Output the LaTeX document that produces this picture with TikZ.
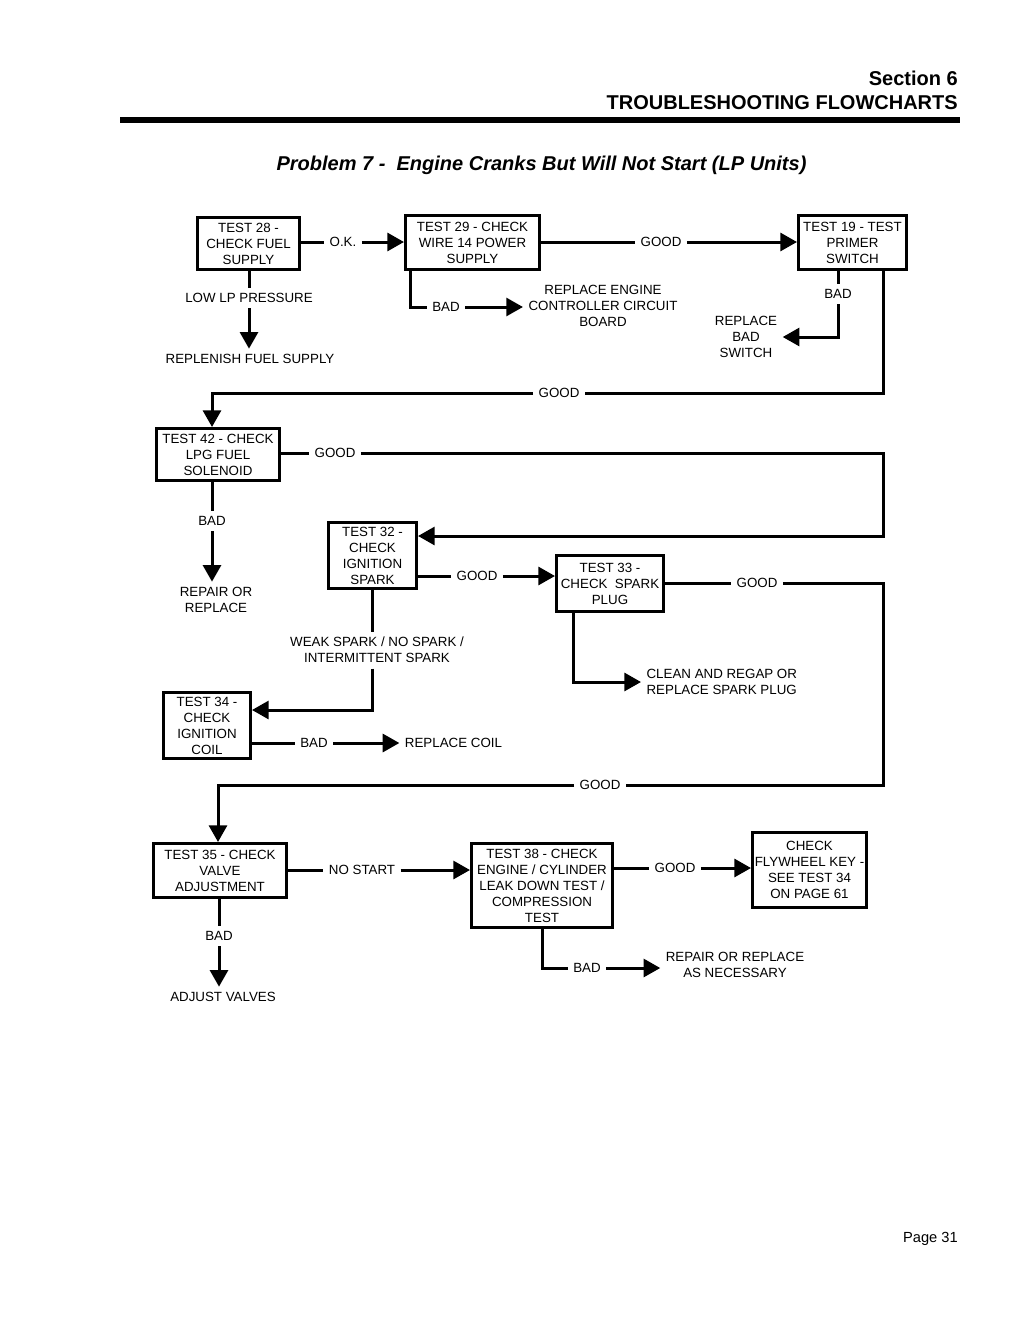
\documentclass[tikz,border=0pt]{standalone}
\usepackage{fontspec}
\setmainfont{Liberation Sans}
\usepackage{tikz}
\usetikzlibrary{arrows.meta,positioning}

\begin{document}
\begin{tikzpicture}
[ x=0.75pt, y=-0.75pt,
		test/.style={rectangle,draw,line width=2.25pt,align=center,inner sep=1pt,execute at begin node={\rule{0pt}{10.5pt}},font=\fontsize{10}{12}\selectfont},
		answer/.style={align=center,inner sep=4pt,font=\fontsize{10}{12}\selectfont},
		lineOut/.style={line width=2.25pt},
		arrowOut/.style={-{Triangle[length=12.5pt,width=13.5pt]},line width=2.25pt}]

	\useasboundingbox (0,0) rectangle (1020,1320);

	\node[anchor=south east,align=right,inner sep=0pt,font=\fontsize{15}{18}\selectfont\bfseries] (section) at (958,110) {Section 6\\TROUBLESHOOTING FLOWCHARTS};
	\draw[line width=4.5pt] (120,120) -- (960,120);
	\node[anchor=base,inner sep=0pt,font=\fontsize{15}{18}\selectfont\bfseries\itshape] (title) at (541.5,170) {Problem 7 - \ Engine Cranks But Will Not Start (LP Units)};
	\node[anchor=base east,inner sep=0pt,font=\fontsize{11}{13}\selectfont] (page) at (958,1242) {Page 31};

	\node[test,minimum width=76.5pt,minimum height=39pt] (t28) at (248.5,243.5) {TEST 28 -\\CHECK FUEL\\SUPPLY};
	\node[test,minimum width=100.5pt,minimum height=40.5pt] (t29) at (472.5,242.5) {TEST 29 - CHECK\\WIRE 14 POWER\\SUPPLY};
	\node[test,minimum width=81pt,minimum height=40.5pt] (t19) at (852.5,242.5) {TEST 19 - TEST\\PRIMER\\SWITCH};
	\node[test,minimum width=92.25pt,minimum height=39pt] (t42) at (218,454.5) {TEST 42 - CHECK\\LPG FUEL\\SOLENOID};
	\node[test,minimum width=66pt,minimum height=49.5pt] (t32) at (372.5,555.5) {TEST 32 -\\CHECK\\IGNITION\\SPARK};
	\node[test,minimum width=80.25pt,minimum height=42pt] (t33) at (610,583.5) {TEST 33 -\\CHECK \ SPARK\\PLUG};
	\node[test,minimum width=65.25pt,minimum height=49.5pt] (t34) at (207,725.5) {TEST 34 -\\CHECK\\IGNITION\\COIL};
	\node[test,minimum width=99.75pt,minimum height=40.5pt] (t35) at (220,870.5) {TEST 35 - CHECK\\VALVE\\ADJUSTMENT};
	\node[test,minimum width=105.75pt,minimum height=63pt] (t38) at (542,885.5) {TEST 38 - CHECK\\ENGINE / CYLINDER\\LEAK DOWN TEST /\\COMPRESSION\\TEST};
	\node[test,minimum width=85.5pt,minimum height=56.25pt,inner sep=0pt] (flywheel) at (809.5,870) {CHECK\\FLYWHEEL KEY -\\SEE TEST 34\\ON PAGE 61};

	\coordinate (bus) at (883,0);

	\node[answer] (ok) at (343,242) {O.K.};
	\draw[lineOut] (t28.east |- ok) -- (ok);
	\draw[arrowOut] (ok) -- (t29.west |- ok);

	\node[answer] (low) at (249,298) {LOW LP PRESSURE};
	\node[answer] (replenish) at (250,359) {REPLENISH FUEL SUPPLY};
	\draw[lineOut] (t28.south -| low) -- (low);
	\draw[arrowOut] (low) -- (low |- replenish.north);

	\node[answer] (good29) at (661,242) {GOOD};
	\draw[lineOut] (t29.east |- good29) -- (good29);
	\draw[arrowOut] (good29) -- (t19.west |- good29);

	\node[answer] (bad29) at (446,307) {BAD};
	\node[answer] (board) at (603,306) {REPLACE ENGINE\\CONTROLLER CIRCUIT\\BOARD};
	\draw[lineOut] ([xshift=4.5pt]t29.south west) |- (bad29);
	\draw[arrowOut] (bad29) -- (board.west |- bad29);

	\node[answer] (bad19) at (838,294) {BAD};
	\node[answer] (switch) at (746,337) {REPLACE\\BAD\\SWITCH};
	\draw[lineOut] (t19.south -| bad19) -- (bad19);
	\draw[arrowOut] (bad19) |- (switch);

	\node[answer] (good19) at (559,393) {GOOD};
	\draw[lineOut] (t19.south -| bus) |- (good19);
	\draw[arrowOut] (good19) -| ([xshift=-4.5pt]t42.north);

	\node[answer] (good42) at (335,453) {GOOD};
	\draw[lineOut] (t42.east |- good42) -- (good42);
	\draw[arrowOut] (good42) -| (bus |- 0,536) -- (t32.east |- 0,536);

	\node[answer] (bad42) at (212,521) {BAD};
	\node[answer] (repair42) at (216,600) {REPAIR OR\\REPLACE};
	\draw[lineOut] (t42.south -| bad42) -- (bad42);
	\draw[arrowOut] (bad42) -- (bad42 |- repair42.north);

	\node[answer] (good32) at (477,576) {GOOD};
	\draw[lineOut] (t32.east |- good32) -- (good32);
	\draw[arrowOut] (good32) -- (t33.west |- good32);

	\node[answer] (weak) at (377,650) {WEAK SPARK / NO SPARK /\\INTERMITTENT SPARK};
	\draw[lineOut] (t32.south) -- (t32.south |- weak.north);
	\draw[arrowOut] (t32.south |- weak.south) |- (t34.east |- 0,710);

	\node[answer,anchor=west,align=left] (clean) at (641,682) {CLEAN AND REGAP OR\\REPLACE SPARK PLUG};
	\draw[arrowOut] ([xshift=13.5pt]t33.south west) |- (clean);

	\node[answer] (bad34) at (314,743) {BAD};
	\node[answer] (coil) at (453.5,743) {REPLACE COIL};
	\draw[lineOut] (t34.east |- bad34) -- (bad34);
	\draw[arrowOut] (bad34) -- (coil);

	\node[answer] (good33) at (757,583) {GOOD};
	\node[answer] (good35) at (600,785) {GOOD};
	\draw[lineOut] (t33.east |- good33) -- (good33);
	\draw[lineOut] (good33) -| (bus |- good35) -- (good35);
	\draw[arrowOut] (good35) -| ([xshift=-1.5pt]t35.north);

	\node[answer] (nostart) at (362,870) {NO START};
	\draw[lineOut] (t35.east |- nostart) -- (nostart);
	\draw[arrowOut] (nostart) -- (t38.west |- nostart);

	\node[answer] (bad35) at (219,936) {BAD};
	\node[answer] (adjust) at (223,997) {ADJUST VALVES};
	\draw[lineOut] (t35.south -| bad35) -- (bad35);
	\draw[arrowOut] (bad35) -- (bad35 |- adjust.north);

	\node[answer] (good38) at (675,868) {GOOD};
	\draw[lineOut] (t38.east |- good38) -- (good38);
	\draw[arrowOut] (good38) -- (flywheel.west |- good38);

	\node[answer] (bad38) at (587,968) {BAD};
	\node[answer] (repair38) at (735,965) {REPAIR OR REPLACE\\AS NECESSARY};
	\draw[lineOut] (t38.south) |- (bad38);
	\draw[arrowOut] (bad38) -- (repair38.west |- bad38);
\end{tikzpicture}
\end{document}
